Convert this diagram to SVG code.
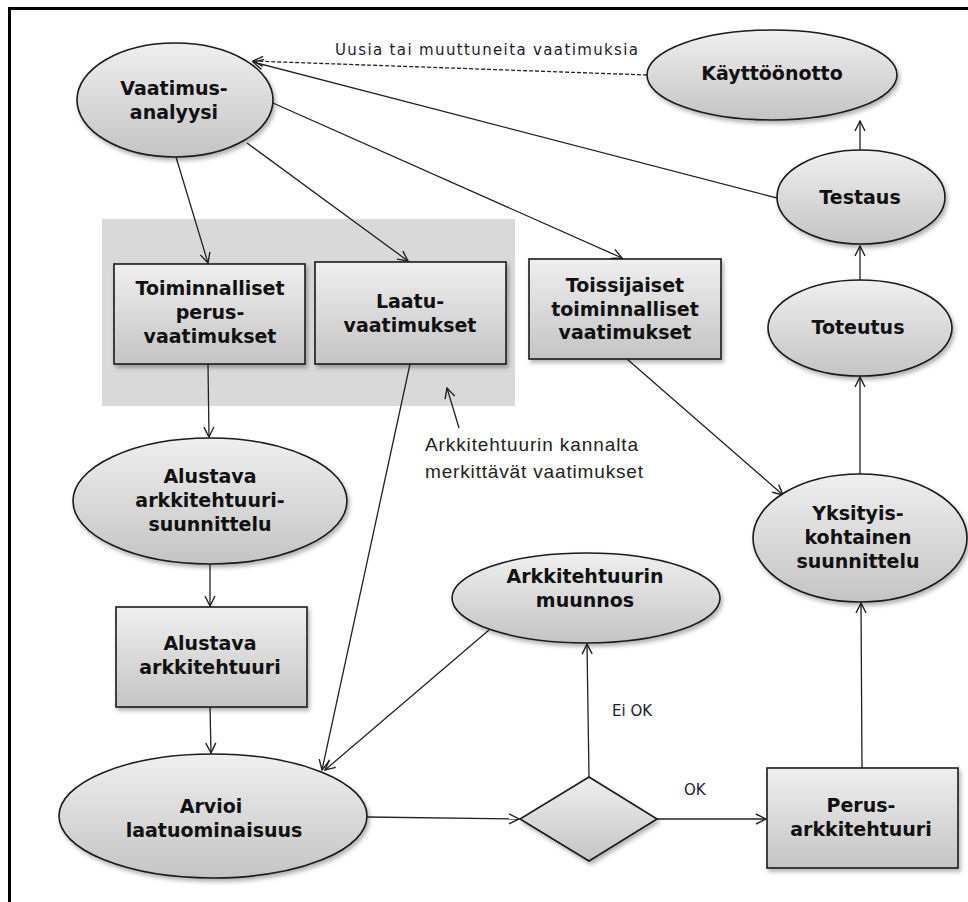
<svg xmlns="http://www.w3.org/2000/svg" width="968" height="902" viewBox="0 0 968 902">
  <defs>
    <linearGradient id="shade" x1="0" y1="0" x2="0" y2="1">
      <stop offset="0" stop-color="#efefef"/>
      <stop offset="1" stop-color="#c4c4c4"/>
    </linearGradient>
    <filter id="shadow" x="-10%" y="-10%" width="125%" height="130%">
      <feDropShadow dx="2" dy="3" stdDeviation="2" flood-color="#000" flood-opacity="0.3"/>
    </filter>
    <marker id="arrow" viewBox="0 0 12 12" refX="11" refY="6" markerWidth="12" markerHeight="12" markerUnits="userSpaceOnUse" orient="auto">
      <path d="M1,1 L11,6 L1,11" fill="none" stroke="#222" stroke-width="1.4"/>
    </marker>
    <style>
      .node { fill: url(#shade); stroke: #1a1a1a; stroke-width: 1.6; filter: url(#shadow); }
      .lbl { font-family: "DejaVu Sans", Verdana, sans-serif; font-weight: bold; font-size: 19px; fill: #111; text-anchor: middle; }
      .edge { fill: none; stroke: #222; stroke-width: 1.3; marker-end: url(#arrow); }
      .dash { stroke-dasharray: 4 2; }
      .note { font-family: "DejaVu Sans", Verdana, sans-serif; font-size: 15px; fill: #1c1c34; }
      .ann { font-family: "Liberation Sans", Arial, sans-serif; font-size: 19px; fill: #222; }
    </style>
  </defs>

  <rect width="968" height="902" fill="#fff"/>
  <!-- outer frame (top and left edges visible) -->
  <rect x="9.5" y="8.5" width="1000" height="1000" fill="none" stroke="#000" stroke-width="3"/>

  <!-- shaded area grouping the architecture-relevant requirements -->
  <rect id="group_area" x="102" y="219" width="413" height="187" fill="#d9d9d9"/>

  <g id="connectors">
    <path class="edge dash" d="M647,75 L253,61"/>
    <path class="edge" d="M777,198 L253,62"/>
    <path class="edge" d="M176,157 L208,263"/>
    <path class="edge" d="M247,143 L408,261"/>
    <path class="edge" d="M273,103 L622,258"/>
    <path class="edge" d="M208,364 L209,437"/>
    <path class="edge" d="M410,364 L322,770"/>
    <path class="edge" d="M459,428 L447,388"/>
    <path class="edge" d="M210,564 L210,606"/>
    <path class="edge" d="M210,707 L211,753"/>
    <path class="edge" d="M489,630 L325,770"/>
    <path class="edge" d="M367,817 L519,819"/>
    <path class="edge" d="M589,777 L587,644"/>
    <path class="edge" d="M657,819 L766,819"/>
    <path class="edge" d="M862,768 L861,603"/>
    <path class="edge" d="M627,359 L783,495"/>
    <path class="edge" d="M860,474 L860,377"/>
    <path class="edge" d="M860,280 L860,246"/>
    <path class="edge" d="M860,150 L860,121"/>
  </g>

  <g id="n_vaatimus">
    <ellipse class="node" cx="175" cy="100" rx="98" ry="57"/>
    <text class="lbl" x="174" y="95">Vaatimus-</text>
    <text class="lbl" x="174" y="119">analyysi</text>
  </g>
  <g id="n_kayttoonotto">
    <ellipse class="node" cx="772" cy="75" rx="125" ry="45"/>
    <text class="lbl" x="772" y="80">Käyttöönotto</text>
  </g>
  <g id="n_testaus">
    <ellipse class="node" cx="861" cy="197" rx="84" ry="47"/>
    <text class="lbl" x="860" y="204">Testaus</text>
  </g>
  <g id="n_toteutus">
    <ellipse class="node" cx="860" cy="328" rx="92" ry="48"/>
    <text class="lbl" x="858" y="334">Toteutus</text>
  </g>
  <g id="n_yksityis">
    <ellipse class="node" cx="860" cy="538" rx="107" ry="64"/>
    <text class="lbl" x="858" y="520">Yksityis-</text>
    <text class="lbl" x="858" y="544">kohtainen</text>
    <text class="lbl" x="858" y="568">suunnittelu</text>
  </g>
  <g id="n_toiminnalliset">
    <rect class="node" x="114" y="264" width="191" height="100"/>
    <text class="lbl" x="210" y="295">Toiminnalliset</text>
    <text class="lbl" x="210" y="319">perus-</text>
    <text class="lbl" x="210" y="343">vaatimukset</text>
  </g>
  <g id="n_laatu">
    <rect class="node" x="315" y="262" width="191" height="102"/>
    <text class="lbl" x="410" y="308">Laatu-</text>
    <text class="lbl" x="410" y="332">vaatimukset</text>
  </g>
  <g id="n_toissijaiset">
    <rect class="node" x="529" y="259" width="192" height="100"/>
    <text class="lbl" x="625" y="292">Toissijaiset</text>
    <text class="lbl" x="625" y="316">toiminnalliset</text>
    <text class="lbl" x="625" y="339">vaatimukset</text>
  </g>
  <g id="n_alustava_suunnittelu">
    <ellipse class="node" cx="210" cy="501" rx="137" ry="63"/>
    <text class="lbl" x="210" y="483">Alustava</text>
    <text class="lbl" x="210" y="507">arkkitehtuuri-</text>
    <text class="lbl" x="210" y="531">suunnittelu</text>
  </g>
  <g id="n_alustava_arkkitehtuuri">
    <rect class="node" x="116" y="607" width="191" height="100"/>
    <text class="lbl" x="210" y="650">Alustava</text>
    <text class="lbl" x="210" y="674">arkkitehtuuri</text>
  </g>
  <g id="n_arvioi">
    <ellipse class="node" cx="213" cy="816" rx="154" ry="62"/>
    <text class="lbl" x="211" y="813">Arvioi</text>
    <text class="lbl" x="214" y="837">laatuominaisuus</text>
  </g>
  <g id="n_muunnos">
    <ellipse class="node" cx="586" cy="598" rx="134" ry="45"/>
    <text class="lbl" x="585" y="583">Arkkitehtuurin</text>
    <text class="lbl" x="585" y="607">muunnos</text>
  </g>
  <g id="n_paatos">
    <polygon class="node" points="589,777 657,819 589,861 520,819"/>
  </g>
  <g id="n_perus">
    <rect class="node" x="767" y="768" width="191" height="100"/>
    <text class="lbl" x="861" y="812">Perus-</text>
    <text class="lbl" x="861" y="836">arkkitehtuuri</text>
  </g>

  <g id="labels">
    <text class="note" x="335" y="55" textLength="303" lengthAdjust="spacing">Uusia tai muuttuneita vaatimuksia</text>
    <text class="ann" x="425" y="451" textLength="213" lengthAdjust="spacing">Arkkitehtuurin kannalta</text>
    <text class="ann" x="425" y="478" textLength="218" lengthAdjust="spacing">merkittävät vaatimukset</text>
    <text class="note" x="612" y="716">Ei OK</text>
    <text class="note" x="684" y="795">OK</text>
  </g>
</svg>
